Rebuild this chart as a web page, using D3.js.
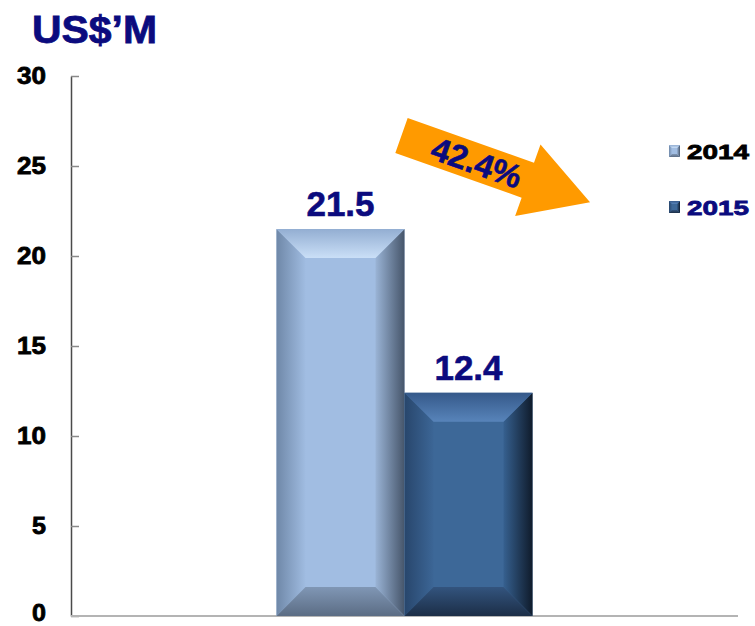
<!DOCTYPE html>
<html>
<head>
<meta charset="utf-8">
<script src="https://cdn.jsdelivr.net/npm/d3@7"></script>
<style>
  html, body { margin: 0; padding: 0; background: #fff; }
  svg { display: block; font-family: "Liberation Sans", Arial, sans-serif; }
</style>
</head>
<body>
<svg id="chart" width="755" height="626"></svg>
<script>
// Revenue by year, US$ millions
const categories = ["FY"];
const seriesNames = ["2014", "2015"];
const seriesValues = [21.5, 12.4];
const yTicks = [0, 5, 10, 15, 20, 25, 30];
const unitLabel = "US$\u2019M";
const changeLabel = "42.4%";

const W = 755, H = 626;
const svg = d3.select("#chart");
const navy = "#0b0b7e";

const plot = { left: 71, right: 738, top: 76, bottom: 616 };

const y = d3.scaleLinear().domain([0, 30]).range([plot.bottom, plot.top]);
const x0 = d3.scaleBand().domain(categories).range([plot.left, plot.right])
  .paddingInner(0.4453).paddingOuter(0.4453);
const x1 = d3.scaleBand().domain(seriesNames).range([0, x0.bandwidth()]);

// palettes for each series: face, top (outer->inner), left, right, bottom
const palette = {
  "2014": { face: "#a1bde2", topA: "#93aed2", topB: "#cadff7", leftA: "#6f88a8", leftB: "#a0bce1",
            rightA: "#9ab4d6", rightB: "#46556a", botA: "#8097b5", botB: "#5b6c84" },
  "2015": { face: "#3d6898", topA: "#35598a", topB: "#5884ba", leftA: "#28466c", leftB: "#3c6696",
            rightA: "#36608f", rightB: "#0f1b2b", botA: "#33547e", botB: "#1c2e47" }
};

const defs = svg.append("defs");
function grad(id, a, b, horizontal) {
  const g = defs.append("linearGradient").attr("id", id)
    .attr("x1", 0).attr("y1", 0)
    .attr("x2", horizontal ? 1 : 0).attr("y2", horizontal ? 0 : 1);
  g.append("stop").attr("offset", "0%").attr("stop-color", a);
  g.append("stop").attr("offset", "100%").attr("stop-color", b);
}
seriesNames.forEach(s => {
  const p = palette[s];
  grad("top" + s, p.topA, p.topB, false);
  grad("left" + s, p.leftA, p.leftB, true);
  grad("right" + s, p.rightA, p.rightB, true);
  grad("bot" + s, p.botA, p.botB, false);
});

// Bevelled block between xa..xb, ya..yb
function bevel(g, s, xa, xb, ya, yb, b) {
  const p = palette[s];
  const pts = a => a.map(d => d.join(",")).join(" ");
  const oTL = [xa, ya], oTR = [xb, ya], oBR = [xb, yb], oBL = [xa, yb];
  const iTL = [xa + b, ya + b], iTR = [xb - b, ya + b], iBR = [xb - b, yb - b], iBL = [xa + b, yb - b];
  g.append("rect").attr("x", xa).attr("y", ya).attr("width", xb - xa).attr("height", yb - ya).attr("fill", p.face);
  g.append("polygon").attr("points", pts([oBL, oTL, iTL, iBL])).attr("fill", `url(#left${s})`);
  g.append("polygon").attr("points", pts([oTR, oBR, iBR, iTR])).attr("fill", `url(#right${s})`);
  g.append("polygon").attr("points", pts([oBR, oBL, iBL, iBR])).attr("fill", `url(#bot${s})`);
  g.append("polygon").attr("points", pts([oTL, oTR, iTR, iTL])).attr("fill", `url(#top${s})`);
}

// Axis: ticks point inward
const axis = d3.axisLeft(y).tickValues(yTicks).tickSizeInner(-8).tickSizeOuter(0).tickPadding(25);
const ag = svg.append("g").attr("transform", `translate(${plot.left},0)`).call(axis);
ag.select(".domain").attr("stroke", "#4a4a4a").attr("stroke-width", 1.5);
ag.selectAll(".tick line").attr("stroke", "#8a8a8a").attr("stroke-width", 1.5);
ag.selectAll(".tick text")
  .attr("fill", "#000").attr("font-size", 24).attr("font-weight", "bold")
  .attr("font-family", "Liberation Sans, Arial, sans-serif")
  .attr("stroke", "#000").attr("stroke-width", 0.8)
  .attr("dy", d => d === 0 ? "0.2em" : "0.32em")
  .each(function(d) {
    d3.select(this).attr("textLength", String(d).length === 1 ? 14 : 29)
      .attr("lengthAdjust", "spacingAndGlyphs");
  });

// Baseline
svg.append("line").attr("x1", plot.left).attr("x2", plot.right)
  .attr("y1", y(0)).attr("y2", y(0)).attr("stroke", "#b4b4b4").attr("stroke-width", 2);

// Bars
const bars = svg.append("g");
categories.forEach(c => {
  seriesNames.forEach((s, i) => {
    const xa = x0(c) + x1(s), xb = xa + x1.bandwidth();
    const g = bars.append("g");
    bevel(g, s, xa, xb, y(seriesValues[i]), y(0), 29);
    svg.append("text")
      .attr("x", (xa + xb) / 2).attr("y", y(seriesValues[i]) - 13)
      .attr("text-anchor", "middle").attr("font-size", 35).attr("font-weight", "bold")
      .attr("fill", navy).attr("stroke", navy).attr("stroke-width", 0.6)
      .text(seriesValues[i].toFixed(1));
  });
});

// Unit title
svg.append("text").attr("x", 32).attr("y", 43)
  .attr("font-size", 39).attr("font-weight", "bold").attr("fill", navy)
  .attr("stroke", navy).attr("stroke-width", 0.8)
  .attr("textLength", 125).attr("lengthAdjust", "spacingAndGlyphs")
  .text(unitLabel);

// Decline arrow
const arrow = svg.append("g").attr("transform", "translate(401.5,135.5) rotate(19.5)");
const sh = 18.5, len = 134, hh = 38, hl = 66;
arrow.append("polygon")
  .attr("points", [[0, -sh], [len, -sh], [len, -hh], [len + hl, 0], [len, hh], [len, sh], [0, sh]]
    .map(d => d.join(",")).join(" "))
  .attr("fill", "#ff9a00");
arrow.append("text").attr("x", 80).attr("y", 12)
  .attr("text-anchor", "middle").attr("font-size", 33).attr("font-weight", "bold")
  .attr("fill", navy).attr("stroke", navy).attr("stroke-width", 0.6).text(changeLabel);

// Legend
const legendY = [151, 207];
const legendColors = ["#000", navy];
seriesNames.forEach((s, i) => {
  const g = svg.append("g");
  bevel(g, s, 669, 680, legendY[i] - 6, legendY[i] + 6, 3);
  g.append("text").attr("x", 687).attr("y", legendY[i] + 8)
    .attr("font-size", 21).attr("font-weight", "bold").attr("fill", legendColors[i])
    .attr("stroke", legendColors[i]).attr("stroke-width", 0.8)
    .attr("textLength", 62).attr("lengthAdjust", "spacingAndGlyphs").text(s);
});
</script>
</body>
</html>
